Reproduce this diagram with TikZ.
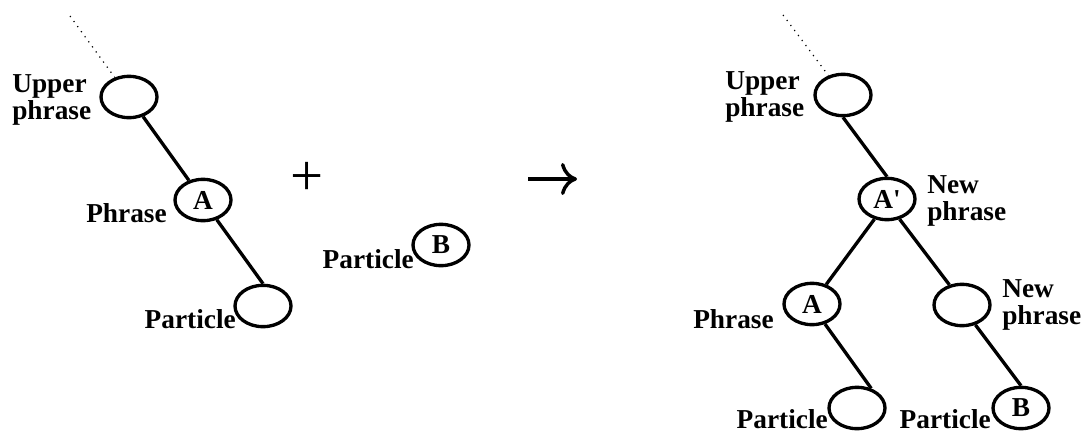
\documentclass[tikz,border=0pt]{standalone}
\usepackage{fontspec}
\setmainfont{Liberation Serif}
\usetikzlibrary{arrows.meta,shapes.geometric}
\begin{document}
\begin{tikzpicture}[x=0.75pt,y=-0.75pt,
  every node/.style={font=\bfseries\fontsize{20.5pt}{20.25pt}\selectfont, inner sep=0pt},
  blob/.style={draw, ellipse, line width=2.5pt, minimum width=42pt, minimum height=31pt},
  lbl/.style={align=left},
  edge/.style={line width=2.5pt},
  upward/.style={line width=0.9pt, dash pattern=on 0.9pt off 3.8pt},
]
\useasboundingbox (0,0) rectangle (1081,432);

% ---- before: a phrase and a lone particle ----
\node[blob] (u1) at (129,97) {};
\node[blob] (a1) at (203,200) {A};
\node[blob] (p1) at (263,306) {};
\coordinate (t1) at (70,16);
% multi-line labels are anchored at the baseline of their last line
\node[lbl, anchor=base west] (lu1) at (12,119) {Upper\\phrase};
\node[anchor=base east] (la1) at (167,222) {Phrase};
\node[anchor=base east] (lp1) at (236,328) {Particle};

\draw[upward] (t1) -- (u1);
\draw[edge] (u1) -- (a1);
\draw[edge] (a1.-55) -- (p1.north);

\node[font=\fontsize{44pt}{44pt}\selectfont] (plus) at (307,179) {+};

\node[blob] (b1) at (441,245) {B};
\node[anchor=base east] (lb1) at (414,268) {Particle};

% ---- transformation arrow ----
\coordinate (g0) at (528,179);
\coordinate (g1) at (577,179);
\draw[line width=2.8pt, -{Computer Modern Rightarrow[length=12pt,width=24pt,line width=2.6pt]}] (g0) -- (g1);

% ---- after: the particle joined under a new phrase ----
\node[blob] (u2) at (843,95) {};
\node[blob] (n2) at (887,199) {A\textquotesingle};
\node[blob] (a2) at (812,304) {A};
\node[blob] (m2) at (962,305) {};
\node[blob] (p2) at (857,408) {};
\node[blob] (b2) at (1021,408) {B};
\coordinate (t2) at (783,15);

\node[lbl, anchor=base west] (lu2) at (725,116) {Upper\\phrase};
\node[lbl, anchor=base west] (ln2) at (927,220) {New\\phrase};
\node[anchor=base east] (la2) at (774,328) {Phrase};
\node[lbl, anchor=base west] (lm2) at (1002,324) {New\\phrase};
\node[anchor=base east] (lp2) at (828,428) {Particle};
\node[anchor=base east] (lb2) at (991,428) {Particle};

\draw[upward] (t2) -- (u2);
\draw[edge] (u2.south) -- (n2.north);
\draw[edge] (n2.-122) -- (a2.54);
\draw[edge] (n2.-58) -- (m2.122);
\draw[edge] (a2.-57) -- (p2.54);
\draw[edge] (m2.-56) -- (b2.north);
\end{tikzpicture}
\end{document}
